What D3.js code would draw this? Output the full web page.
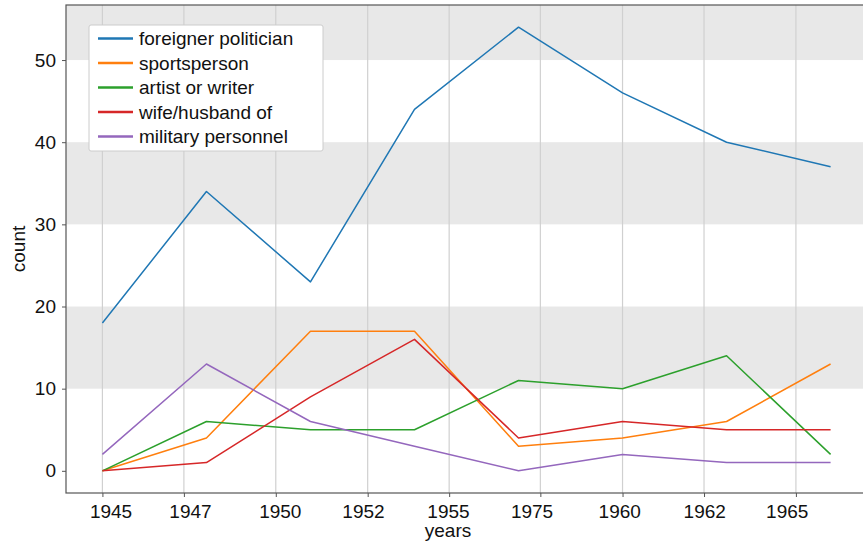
<!DOCTYPE html>
<html>
<head>
<meta charset="utf-8">
<script src="https://cdn.jsdelivr.net/npm/d3@7/dist/d3.min.js"></script>
<style>
  body { margin: 0; background: #fff; }
  svg { display: block; font-family: "Liberation Sans", Arial, sans-serif; }
</style>
</head>
<body>
<svg id="chart" width="863" height="547"></svg>
<script>
// years sampled and counts per category
const years = [1945, 1948, 1951, 1954, 1957, 1960, 1963, 1966];
const foreignerPolitician = [18, 34, 23, 44, 54, 46, 40, 37];
const sportsperson = [0, 4, 17, 17, 3, 4, 6, 13];
const artistOrWriter = [0, 6, 5, 5, 11, 10, 14, 2];
const wifeHusbandOf = [0, 1, 9, 16, 4, 6, 5, 5];
const militaryPersonnel = [2, 13, 6, 3, 0, 2, 1, 1];

const seriesNames = ['foreigner politician', 'sportsperson', 'artist or writer', 'wife/husband of', 'military personnel'];
const seriesColors = ['#1f77b4', '#ff7f0e', '#2ca02c', '#d62728', '#9467bd'];

// x tick / grid positions (in years), where their labels sit, and the labels
const xTickValues = [1945, 1947.35, 1950, 1952.65, 1955, 1957.63, 1960, 1962.35, 1965];
const xLabelAt = [1945.25, 1947.54, 1950.13, 1952.53, 1954.98, 1957.39, 1959.92, 1962.37, 1964.75];
const xTickLabels = ['1945', '1947', '1950', '1952', '1955', '1975', '1960', '1962', '1965'];
const yTickValues = [0, 10, 20, 30, 40, 50];

const series = [foreignerPolitician, sportsperson, artistOrWriter, wifeHusbandOf, militaryPersonnel];

const svg = d3.select('svg#chart');
const margin = {top: 5, left: 66, bottom: 493, right: 867};
const fontSize = '19px';

const x = d3.scaleLinear()
    .domain([1943.95, 1967.05])
    .range([margin.left, margin.right]);

const y = d3.scaleLinear()
    .domain([-2.7, 56.7])
    .range([margin.bottom, margin.top]);

// alternating grey bands
const bands = [10, 30, 50];
svg.append('g').selectAll('rect')
    .data(bands)
    .enter().append('rect')
        .attr('x', margin.left)
        .attr('width', margin.right - margin.left)
        .attr('y', function(d) { return y(Math.min(d + 10, y.domain()[1])); })
        .attr('height', function(d) { return y(d) - y(Math.min(d + 10, y.domain()[1])); })
        .attr('fill', '#e8e8e8');

// vertical grid
svg.append('g').selectAll('line')
    .data(xTickValues)
    .enter().append('line')
        .attr('x1', function(d) { return x(d); })
        .attr('x2', function(d) { return x(d); })
        .attr('y1', margin.top)
        .attr('y2', margin.bottom)
        .attr('stroke', '#d0d0d0')
        .attr('stroke-width', 1.2);

// lines
const line = d3.line()
    .x(function(d, i) { return x(years[i]); })
    .y(function(d) { return y(d); });

svg.append('g').selectAll('path')
    .data(series)
    .enter().append('path')
        .attr('d', line)
        .attr('fill', 'none')
        .attr('stroke', function(d, i) { return seriesColors[i]; })
        .attr('stroke-width', 1.5)
        .attr('stroke-linejoin', 'round');

// spines
svg.append('rect')
    .attr('x', margin.left)
    .attr('y', margin.top)
    .attr('width', margin.right - margin.left)
    .attr('height', margin.bottom - margin.top)
    .attr('fill', 'none')
    .attr('stroke', '#555')
    .attr('stroke-width', 1.2);

// axes
const xAxis = svg.append('g')
    .attr('transform', 'translate(0,' + margin.bottom + ')')
    .call(d3.axisBottom(x)
        .tickValues(xTickValues)
        .tickFormat('')
        .tickSize(4));

const yAxis = svg.append('g')
    .attr('transform', 'translate(' + margin.left + ',0)')
    .call(d3.axisLeft(y)
        .tickValues(yTickValues)
        .tickSize(4)
        .tickPadding(6));

[xAxis, yAxis].forEach(function(a) {
    a.select('.domain').remove();
    a.selectAll('.tick line').attr('stroke', '#555');
    a.selectAll('.tick text')
        .attr('fill', '#111')
        .style('font-size', fontSize)
        .style('font-family', '"Liberation Sans", Arial, sans-serif');
});

svg.append('g').selectAll('text')
    .data(xTickLabels)
    .enter().append('text')
        .attr('x', function(d, i) { return x(xLabelAt[i]); })
        .attr('y', 518)
        .attr('text-anchor', 'middle')
        .attr('fill', '#111')
        .style('font-size', fontSize)
        .text(function(d) { return d; });

svg.append('text')
    .attr('x', 448)
    .attr('y', 537)
    .attr('text-anchor', 'middle')
    .attr('fill', '#111')
    .style('font-size', fontSize)
    .text('years');

svg.append('text')
    .attr('transform', 'translate(25,' + ((margin.top + margin.bottom) / 2) + ') rotate(-90)')
    .attr('text-anchor', 'middle')
    .attr('fill', '#111')
    .style('font-size', fontSize)
    .text('count');

// legend
const legend = svg.append('g').attr('transform', 'translate(89,25)');
legend.append('rect')
    .attr('width', 234)
    .attr('height', 126)
    .attr('rx', 2)
    .attr('fill', '#fff')
    .attr('stroke', '#ccc')
    .attr('stroke-width', 1);

const item = legend.selectAll('.item')
    .data(seriesNames)
    .enter().append('g')
        .attr('class', 'item')
        .attr('transform', function(d, i) { return 'translate(0,' + (13.5 + i * 24.5) + ')'; });

item.append('line')
    .attr('x1', 9)
    .attr('x2', 44)
    .attr('stroke', function(d, i) { return seriesColors[i]; })
    .attr('stroke-width', 2.6);

item.append('text')
    .attr('x', 50)
    .attr('dy', '0.35em')
    .attr('fill', '#111')
    .style('font-size', fontSize)
    .text(function(d) { return d; });
</script>
</body>
</html>
